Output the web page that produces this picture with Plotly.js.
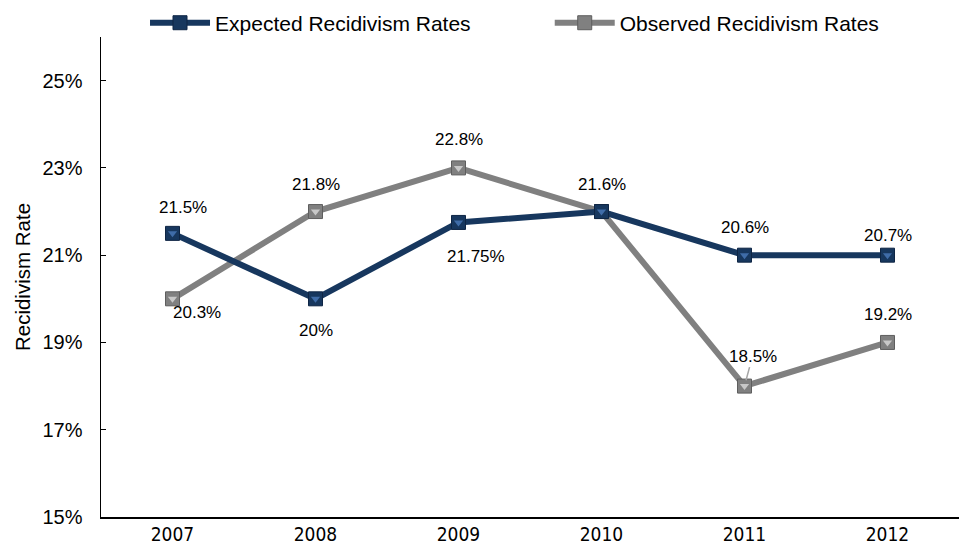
<!DOCTYPE html>
<html><head><meta charset="utf-8">
<script src="https://cdn.plot.ly/plotly-3.0.1.min.js"></script>
<style>html,body{margin:0;padding:0;background:#fff}#chart{width:959px;height:552px}</style>
</head><body><div id="chart"></div>
<script>
const years = ['2007','2008','2009','2010','2011','2012'];
const expectedValues = [21.5, 20, 21.75, 22, 21, 21];
const observedValues = [20, 22, 23, 22, 18, 19];
const expectedLabels = ['21.5%', '20%', '21.75%', '', '20.6%', '20.7%'];
const observedLabels = ['20.3%', '21.8%', '22.8%', '21.6%', '18.5%', '19.2%'];
const yTickVals = [15, 17, 19, 21, 23, 25];
const yTickText = ['15%', '17%', '19%', '21%', '23%', '25%'];

const navy = '#17375E', navyLight = '#3F6CA8', navyDark = '#0E2544';
const gray = '#808080', grayLight = '#C8C8C8', grayDark = '#5E5E5E';
const labelFont = {family: 'Liberation Sans, Arial, sans-serif', size: 17, color: '#000'};

// label placement styling (pixel shifts), per point
const expShift = [[10, 26], [0, -32], [17, -34], [0, 0], [0, 28], [0, 20]];
const obsShift = [[24, -14], [0, 27], [0, 28], [0, 27], [8, 30], [0, 28]];
const obsLeader = [false, false, false, false, true, false];

const traces = [
  {x: years, y: observedValues, name: 'Observed Recidivism Rates', type: 'scatter', mode: 'lines+markers', legend: 'legend2',
   line: {color: gray, width: 6}, marker: {symbol: 'square', size: 14, color: gray, line: {color: grayDark, width: 1}}},
  {x: years, y: observedValues, type: 'scatter', mode: 'markers', showlegend: false, hoverinfo: 'skip',
   marker: {symbol: 'triangle-down', size: 8, color: grayLight}},
  {x: years, y: expectedValues, name: 'Expected Recidivism Rates', type: 'scatter', mode: 'lines+markers', legend: 'legend',
   line: {color: navy, width: 6}, marker: {symbol: 'square', size: 14, color: navy, line: {color: navyDark, width: 1}}},
  {x: years, y: expectedValues, type: 'scatter', mode: 'markers', showlegend: false, hoverinfo: 'skip',
   marker: {symbol: 'triangle-down', size: 8, color: navyLight}}
];

const annotations = [];
years.forEach((yr, i) => {
  if (expectedLabels[i]) annotations.push({x: i, y: expectedValues[i], xref: 'x', yref: 'y', text: expectedLabels[i],
    showarrow: false, xshift: expShift[i][0], yshift: expShift[i][1], font: labelFont});
  if (observedLabels[i]) {
    if (obsLeader[i]) {
      annotations.push({x: i, y: observedValues[i], xref: 'x', yref: 'y', text: observedLabels[i],
        showarrow: true, arrowhead: 0, arrowwidth: 1.5, arrowcolor: '#A6A6A6', ax: obsShift[i][0], ay: -obsShift[i][1],
        standoff: 6, font: labelFont});
    } else {
      annotations.push({x: i, y: observedValues[i], xref: 'x', yref: 'y', text: observedLabels[i],
        showarrow: false, xshift: obsShift[i][0], yshift: obsShift[i][1], font: labelFont});
    }
  }
});

const legendFont = {family: 'Liberation Sans, Arial, sans-serif', size: 21, color: '#000'};
const layout = {
  width: 959, height: 552,
  margin: {l: 101, r: 0, t: 37, b: 35, autoexpand: false},
  paper_bgcolor: '#fff', plot_bgcolor: '#fff',
  showlegend: true,
  legend: {orientation: 'h', x: 0.0513, y: 1.029, xanchor: 'left', yanchor: 'middle', itemwidth: 60, font: legendFont, bgcolor: 'rgba(0,0,0,0)'},
  legend2: {orientation: 'h', x: 0.523, y: 1.029, xanchor: 'left', yanchor: 'middle', itemwidth: 60, font: legendFont, bgcolor: 'rgba(0,0,0,0)'},
  xaxis: {type: 'category', range: [-0.5, 5.5], showline: true, linecolor: '#000', linewidth: 1.5,
    ticks: '', showgrid: false, zeroline: false,
    tickfont: {family: 'DejaVu Sans Condensed, sans-serif', size: 19, color: '#000'}},
  yaxis: {range: [15, 26], tickvals: yTickVals, ticktext: yTickText, showline: true, linecolor: '#000', linewidth: 1.5,
    ticks: 'inside', ticklen: 5, tickcolor: '#000', showgrid: false, zeroline: false, ticklabelstandoff: 13,
    tickfont: {family: 'Liberation Sans, Arial, sans-serif', size: 20, color: '#000'},
    title: {text: 'Recidivism Rate', standoff: 6, font: {family: 'Liberation Sans, Arial, sans-serif', size: 20.5, color: '#000'}}},
  annotations: annotations
};

Plotly.newPlot('chart', traces, layout, {displayModeBar: false, staticPlot: true});
</script></body></html>
